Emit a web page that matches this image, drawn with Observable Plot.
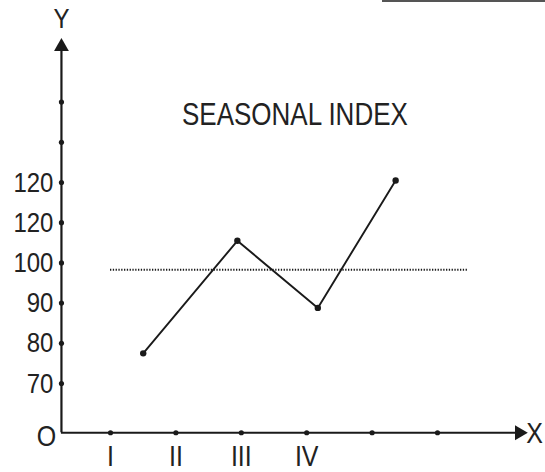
<!DOCTYPE html>
<html>
<head>
<meta charset="utf-8">
<script src="https://cdn.jsdelivr.net/npm/d3@7"></script>
<script src="https://cdn.jsdelivr.net/npm/@observablehq/plot@0.6"></script>
<style>
  html, body { margin: 0; padding: 0; background: #fff; }
  #wrap { position: relative; width: 545px; height: 472px; }
  #topline { position: absolute; left: 382px; top: 0; width: 163px; height: 2px; background: #555; }
</style>
</head>
<body>
<div id="wrap"><div id="topline"></div><div id="chart"></div></div>
<script>
// ---- data ----
const title = "SEASONAL INDEX";
const quarterLabels = ["I", "II", "III", "IV"];
const xTickSlots = [1, 2, 3, 4, 5, 6];
const yTickValues = [70, 80, 90, 100, 110, 120, 130, 140];
const yTickLabels = ["70", "80", "90", "100", "120", "120"];
const pointX = [1.50, 2.94, 4.17, 5.36];
const pointY = [77.5, 105.5, 88.8, 120.5];
const averageValue = 98.3;
const averageSpan = [1.0, 6.47];
// axis geometry in data units
const originX = 0.25, originY = 57.75;
const yAxisTop = 153.8, xAxisEnd = 7.25;
const titleX = 3.82, titleY = 136.7;

const points = pointX.map((x, i) => ({x, y: pointY[i]}));
const ink = "#1a1a1a";
const font = "Liberation Sans, Arial, Helvetica, sans-serif";

const chart = Plot.plot({
  width: 545,
  height: 472,
  margin: 0,
  x: {domain: [1, 6], range: [110, 437], axis: null},
  y: {domain: [70, 120], range: [383, 182], axis: null},
  style: {fontFamily: font, background: "transparent", color: ink},
  marks: [
    // average (dotted) line
    Plot.ruleY([averageValue], {x1: averageSpan[0], x2: averageSpan[1], stroke: ink, strokeWidth: 2, strokeDasharray: "1.3,1.5"}),
    // axes
    Plot.ruleX([originX], {y1: originY, y2: yAxisTop, stroke: ink, strokeWidth: 2.2}),
    Plot.ruleY([originY], {x1: originX, x2: xAxisEnd, stroke: ink, strokeWidth: 2.2}),
    Plot.dot([{x: originX, y: yAxisTop}], {x: "x", y: "y", symbol: "triangle", r: 5.5, fill: ink, stroke: "none"}),
    Plot.dot([{x: xAxisEnd, y: originY}], {x: "x", y: "y", symbol: "triangle", r: 5.5, fill: ink, stroke: "none", rotate: 90}),
    // tick dots
    Plot.dot(yTickValues, {x: originX, y: d => d, r: 2.6, fill: ink, stroke: "none"}),
    Plot.dot(xTickSlots, {x: d => d, y: originY, r: 2.6, fill: ink, stroke: "none"}),
    // tick labels
    Plot.text(yTickLabels, {x: originX, y: (d, i) => yTickValues[i], text: d => d, textAnchor: "end", dx: -8, fontSize: 24, fill: "#222"}),
    Plot.text(quarterLabels, {x: (d, i) => xTickSlots[i], y: originY, text: d => d, dy: 24, fontSize: 25, fill: "#222"}),
    Plot.text(["O"], {x: originX, y: originY, text: d => d, dx: -15, dy: 4, fontSize: 25, fill: "#222"}),
    Plot.text(["X"], {x: xAxisEnd, y: originY, text: d => d, textAnchor: "start", dx: 7, dy: 1, fontSize: 25, fill: "#222"}),
    Plot.text(["Y"], {x: originX, y: yAxisTop, text: d => d, dy: -28, fontSize: 24, fill: "#222"}),
    // title
    Plot.text([title], {x: titleX, y: titleY, text: d => d, fontSize: 26, fill: "#222"}),
    // series
    Plot.line(points, {x: "x", y: "y", stroke: ink, strokeWidth: 1.9}),
    Plot.dot(points, {x: "x", y: "y", r: 3.2, fill: ink, stroke: "none"})
  ]
});
// the reference lettering is slightly taller than it is wide
d3.select(chart).selectAll("text").each(function () {
  const t = this.getAttribute("transform") || "";
  this.setAttribute("transform", t + " scale(1,1.18)");
});
document.getElementById("chart").appendChild(chart);
</script>
</body>
</html>
